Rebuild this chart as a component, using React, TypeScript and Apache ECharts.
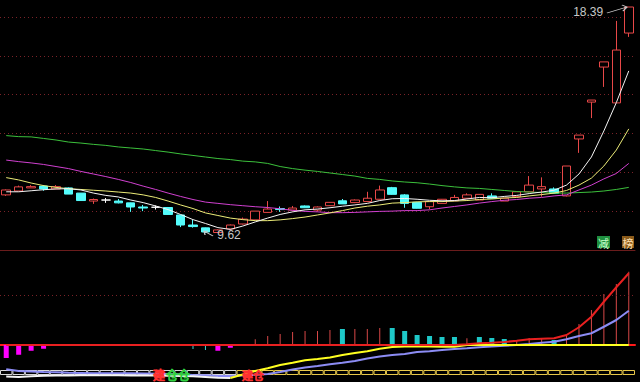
import React, { useEffect, useRef } from "react";
import * as echarts from "echarts";

const days = Array.from({ length: 51 }, (_, i) => String(i + 1));

const open = [11.10,11.25,11.37,11.44,11.33,11.37,11.17,10.86,10.90,10.86, 10.79,10.63,10.62,10.61,10.32,9.93,9.82,9.64,9.78,9.97, 10.13,10.42,10.57,10.51,10.67,10.51,10.68,10.87,10.80,10.84, 10.93,11.38,11.10,10.81,10.64,10.77,10.87,10.97,10.90,11.06, 10.86,11.03,11.22,11.33,11.33,11.06,13.27,14.70,16.06,14.67,17.38];
const close = [11.29,11.41,11.42,11.33,11.42,11.13,10.88,10.92,10.90,10.79, 10.63,10.59,10.62,10.34,9.93,9.87,9.66,9.74,9.93,10.16, 10.47,10.55,10.53,10.59,10.60,10.63,10.81,10.75,10.90,10.97, 11.29,11.12,10.77,10.58,10.84,10.93,11.00,11.10,11.12,10.97, 10.97,11.22,11.48,11.42,11.16,12.22,13.42,14.78,16.26,16.72,18.39];
const low = [11.06,11.25,11.37,11.26,11.33,11.13,10.88,10.75,10.79,10.77, 10.44,10.47,10.53,10.32,9.85,9.83,9.62,9.63,9.76,9.95, 10.13,10.41,10.44,10.51,10.59,10.45,10.67,10.75,10.78,10.82, 10.92,11.10,10.60,10.57,10.54,10.76,10.86,10.96,10.90,10.96, 10.86,11.02,11.21,11.03,11.15,11.04,12.73,14.08,15.29,14.67,17.23];
const high = [11.31,11.46,11.48,11.48,11.48,11.39,11.17,10.96,10.98,10.94, 10.80,10.71,10.69,10.63,10.32,10.13,9.83,9.76,9.95,10.22, 10.47,10.86,10.65,10.67,10.69,10.65,10.82,10.94,10.92,11.22, 11.46,11.41,11.13,10.82,10.84,10.94,11.10,11.16,11.13,11.16, 10.98,11.23,11.83,11.78,11.39,12.22,13.42,14.78,16.26,17.85,18.39];

const ma5 = [11.22,11.22,11.26,11.30,11.33,11.34,11.29,11.17,11.08,11.02, 10.90,10.80,10.67,10.53,10.34,10.14,9.99,9.83,9.76,9.89, 10.05,10.20,10.34,10.44,10.52,10.55,10.60,10.66,10.71,10.77, 10.88,10.95,10.96,10.93,10.89,10.87,10.88,10.94,11.00,10.99, 11.04,11.08,11.15,11.21,11.28,11.48,11.91,12.57,13.58,14.68,15.91];
const ma10 = [11.77,11.68,11.56,11.46,11.39,11.34,11.31,11.28,11.25,11.21, 11.17,11.10,11.00,10.86,10.71,10.57,10.40,10.30,10.20,10.14, 10.10,10.10,10.13,10.18,10.24,10.32,10.40,10.49,10.59,10.66, 10.71,10.78,10.80,10.83,10.84,10.84,10.86,10.88,10.92,10.94, 10.98,11.00,11.06,11.11,11.17,11.27,11.48,11.75,12.22,12.84,13.66];
const ma30 = [12.45,12.39,12.34,12.28,12.20,12.12,12.01,11.91,11.81,11.70, 11.58,11.44,11.31,11.17,11.04,10.92,10.82,10.77,10.72,10.68, 10.64,10.61,10.56,10.50,10.46,10.44,10.41,10.41,10.42,10.44, 10.46,10.47,10.49,10.49,10.52,10.59,10.65,10.71,10.78,10.84, 10.89,10.92,10.97,11.00,11.06,11.10,11.29,11.48,11.72,11.93,12.32];
const ma60 = [13.40,13.36,13.35,13.29,13.23,13.15,13.11,13.06,13.02,12.96, 12.92,12.88,12.82,12.76,12.69,12.63,12.57,12.51,12.47,12.41, 12.38,12.32,12.20,12.12,12.06,12.01,11.95,11.89,11.83,11.74, 11.70,11.64,11.60,11.57,11.52,11.46,11.41,11.37,11.35,11.31, 11.27,11.23,11.21,11.19,11.17,11.17,11.19,11.21,11.25,11.31,11.39];

// lower indicator panel
const hist = [-0.052,-0.039,-0.023,-0.015,0,0,0,0,0,0, 0,0,0,0,-0.003,-0.016,-0.020,-0.023,-0.011,0, 0.023,0.036,0.044,0.052,0.056,0.056,0.060,0.064,0.064,0.064, 0.068,0.068,0.056,0.040,0.036,0.032,0.032,0.027,0.032,0.028, 0.024,0.020,0.028,0.028,0.020,0.036,0.084,0.140,0.204,0.244,0.293];
const histThick = [1,1,1,1,0,0,0,0,0,0, 0,0,0,0,0,0,0,1,1,0, 0,0,0,0,0,0,0,1,0,0, 0,1,1,1,1,1,1,0,1,1, 1,0,0,0,1,0,0,0,0,0,0];
const difLine = [0,0,0,0,0,0,0,0,0,0, 0,0,0,0,0,0,0,0,0,0, 0,0,0,0,0,0,0,0,0,0, 0,0,0,0,0,0,0,0.003,0.007,0.009, 0.012,0.017,0.023,0.025,0.027,0.040,0.071,0.113,0.173,0.231,0.287];
const signalLine = [-0.126,-0.128,-0.125,-0.123,-0.122,-0.122,-0.121,-0.121,-0.121,-0.121, -0.122,-0.122,-0.122,-0.123,-0.124,-0.125,-0.128,-0.131,-0.132,-0.118, -0.104,-0.093,-0.080,-0.071,-0.061,-0.056,-0.050,-0.040,-0.032,-0.025, -0.015,-0.008,-0.006,-0.005,-0.006,-0.007,-0.007,0,0,0, 0,0,0,0,0,0,0,0,0,0,0];
const slowLine = [-0.097,-0.104,-0.106,-0.108,-0.109,-0.111,-0.112,-0.113,-0.113,-0.113, -0.113,-0.114,-0.115,-0.116,-0.118,-0.120,-0.121,-0.124,-0.124,-0.122, -0.119,-0.116,-0.108,-0.098,-0.090,-0.084,-0.077,-0.071,-0.064,-0.054, -0.046,-0.040,-0.036,-0.028,-0.025,-0.020,-0.016,-0.013,-0.009,-0.006, -0.003,0,0.004,0.009,0.013,0.023,0.036,0.047,0.073,0.100,0.137];
const tapeUp = [0,0,0,0,0,0,0,0,0,0, 0,0,0,0,0,0,0,0,0,1, 1,1,1,1,1,1,1,1,1,1, 1,1,1,1,1,1,1,1,1,1, 1,1,1,1,1,1,1,1,1,1,1];

const PRICE_MIN = 8.961;
const PRICE_MAX = 18.662;
const IND_MIN = -0.148;
const IND_MAX = 0.376;

const hiddenCat = (gridIndex: number, extra: any = {}) => ({
  type: "category",
  data: days,
  gridIndex,
  boundaryGap: true,
  axisLabel: { show: false },
  axisTick: { show: false },
  splitLine: { show: false },
  axisLine: { show: false },
  ...extra,
});

const hiddenVal = (gridIndex: number, min: number, max: number, extra: any = {}) => ({
  type: "value",
  gridIndex,
  min,
  max,
  axisLabel: { show: false },
  axisLine: { show: false },
  axisTick: { show: false },
  splitLine: { show: false },
  ...extra,
});

export default function App() {
  const ref = useRef<HTMLDivElement>(null);
  useEffect(() => {
    document.body.style.margin = "0";
    document.body.style.background = "#000";
    if (!ref.current) return;
    const chart = echarts.init(ref.current, undefined, { renderer: "svg" });
    const candleData = days.map((_, i) => [open[i], close[i], low[i], high[i]]);
    const whiteSeg = signalLine.map((v, i) => (tapeUp[i] === 0 ? v : "-"));
    const yellowSeg = signalLine.map((v, i) => (tapeUp[i] === 1 || tapeUp[i + 1] === 1 ? v : "-"));
    const thickData = hist.map((v, i) =>
      histThick[i] && v !== 0 ? { value: v, itemStyle: { color: v < 0 ? "#ff00ff" : "#1ec8c8" } } : "-"
    );
    const thinData = hist.map((v, i) =>
      !histThick[i] && v !== 0 ? { value: v, itemStyle: { color: v < 0 ? "#40d0d0" : "#d84848" } } : "-"
    );
    const tapeData = tapeUp.map((u) => ({
      value: 1,
      itemStyle: { color: "rgba(0,0,0,0)", borderColor: u ? "#e8c84a" : "#d8d8d8", borderWidth: 1 },
    }));
    const maLine = (name: string, data: number[], color: string) => ({
      name,
      type: "line",
      xAxisIndex: 0,
      yAxisIndex: 0,
      data,
      symbol: "none",
      silent: true,
      z: 5,
      lineStyle: { color, width: 1 },
    });
    const indLine = (name: string, data: any[], color: string, width: number, z: number) => ({
      name,
      type: "line",
      xAxisIndex: 1,
      yAxisIndex: 1,
      data,
      symbol: "none",
      silent: true,
      z,
      lineStyle: { color, width },
    });
    const labelFont = { color: "#c8c8c8", fontSize: 12, fontFamily: "Liberation Sans, DejaVu Sans, sans-serif" };
    chart.setOption({
      animation: false,
      backgroundColor: "#000",
      grid: [
        { left: 0, right: 5, top: 0, height: 250 },
        { left: 0, right: 5, top: 251, height: 131 },
        { left: 0, right: 5, top: 370, height: 5 },
        { left: 0, right: 5, top: 17, height: 233 },
      ],
      xAxis: [
        hiddenCat(0, { axisLine: { show: true, onZero: false, lineStyle: { color: "#6a1c1c", width: 1 } } }),
        hiddenCat(1, { axisLine: { show: true, onZero: true, lineStyle: { color: "#ff1a1a", width: 2 } } }),
        hiddenCat(2),
        hiddenCat(1, { show: false }),
        hiddenCat(3, { show: false }),
      ],
      yAxis: [
        hiddenVal(0, PRICE_MIN, PRICE_MAX),
        hiddenVal(1, IND_MIN, IND_MAX),
        hiddenVal(2, 0, 1),
        hiddenVal(3, 0, 6, { interval: 1, splitLine: { show: true, lineStyle: { color: "#7a2228", type: [1, 3], width: 1 } } }),
      ],
      series: [
        {
          name: "K",
          type: "candlestick",
          xAxisIndex: 0,
          yAxisIndex: 0,
          data: candleData,
          barWidth: 9,
          clip: false,
          silent: true,
          z: 3,
          itemStyle: {
            color: "#000000",
            color0: "#54fcfc",
            borderColor: "#e84848",
            borderColor0: "#54fcfc",
            borderColorDoji: "#ffffff",
            borderWidth: 1,
          },
          markPoint: {
            silent: true,
            animation: false,
            data: [
              {
                type: "max",
                valueDim: "highest",
                symbol: "path://M0,8 L20,2 M15,0 L20,2 L16,6",
                symbolSize: [20, 8],
                symbolOffset: [-11.8, 2],
                itemStyle: { color: "rgba(0,0,0,0)", borderColor: "#c8c8c8", borderWidth: 1 },
                label: { show: true, position: [-3, 7], align: "right", verticalAlign: "middle", formatter: "{c}", ...labelFont },
              },
              {
                type: "min",
                valueDim: "lowest",
                symbol: "path://M9,5 L0,0 L4,0 M0,0 L1,4",
                symbolSize: [9, 5],
                symbolOffset: [3.1, 0.5],
                itemStyle: { color: "rgba(0,0,0,0)", borderColor: "#c8c8c8", borderWidth: 1 },
                label: { show: true, position: [14, 4], align: "left", verticalAlign: "middle", formatter: "{c}", ...labelFont },
              },
            ],
          },
        },
        maLine("MA60", ma60, "#3cc03c"),
        maLine("MA30", ma30, "#d040d0"),
        maLine("MA10", ma10, "#ecec78"),
        maLine("MA5", ma5, "#f4f4f4"),
        {
          name: "histThick",
          type: "bar",
          xAxisIndex: 1,
          yAxisIndex: 1,
          data: thickData,
          barWidth: 5,
          silent: true,
          z: 2,
        },
        {
          name: "histThin",
          type: "bar",
          xAxisIndex: 3,
          yAxisIndex: 1,
          data: thinData,
          barWidth: 1,
          silent: true,
          z: 2,
        },
        {
          ...indLine("slow", slowLine, "#8c8cf4", 2, 4),
          markLine: {
            silent: true,
            symbol: "none",
            label: { show: false },
            lineStyle: { color: "#7a2228", type: [1, 3], width: 1 },
            data: [{ yAxis: 0.2 }],
          },
        },
        indLine("signalWhite", whiteSeg, "#f4f4f4", 2, 4),
        indLine("signalYellow", yellowSeg, "#ffff20", 2, 5),
        indLine("dif", difLine, "#e82020", 2, 6),
        {
          name: "tape",
          type: "bar",
          xAxisIndex: 2,
          yAxisIndex: 2,
          data: tapeData,
          barWidth: "100%",
          silent: true,
          z: 1,
        },
      ],
      graphic: [
        { type: "rect", shape: { x: 597, y: 236, width: 13, height: 12 }, style: { fill: "#1f8f3f" }, silent: true },
        { type: "text", style: { text: "减", x: 603.5, y: 242.5, align: "center", verticalAlign: "middle", fill: "#c8ffc8", font: '11px "Noto Sans CJK SC"' }, silent: true },
        { type: "rect", shape: { x: 622, y: 236, width: 12, height: 12 }, style: { fill: "#8a5a1a" }, silent: true },
        { type: "text", style: { text: "榜", x: 628, y: 242.5, align: "center", verticalAlign: "middle", fill: "#ffe0b0", font: '11px "Noto Sans CJK SC"' }, silent: true },
        { type: "text", z: 50, style: { text: "建", x: 153, y: 374, verticalAlign: "middle", fill: "rgba(0,0,0,0)", stroke: "#ff3030", lineWidth: 1, font: '12px "Noto Sans CJK SC"' }, silent: true },
        { type: "text", z: 50, style: { text: "仓仓", x: 166, y: 374, verticalAlign: "middle", fill: "rgba(0,0,0,0)", stroke: "#30d040", lineWidth: 1, font: '12px "Noto Sans CJK SC"' }, silent: true },
        { type: "text", z: 50, style: { text: "建仓", x: 242, y: 375, verticalAlign: "middle", fill: "rgba(0,0,0,0)", stroke: "#ff3030", lineWidth: 1, font: '11px "Noto Sans CJK SC"' }, silent: true },
      ],
    });
    return () => chart.dispose();
  }, []);
  return <div ref={ref} style={{ width: 640, height: 382, background: "#000" }} />;
}
